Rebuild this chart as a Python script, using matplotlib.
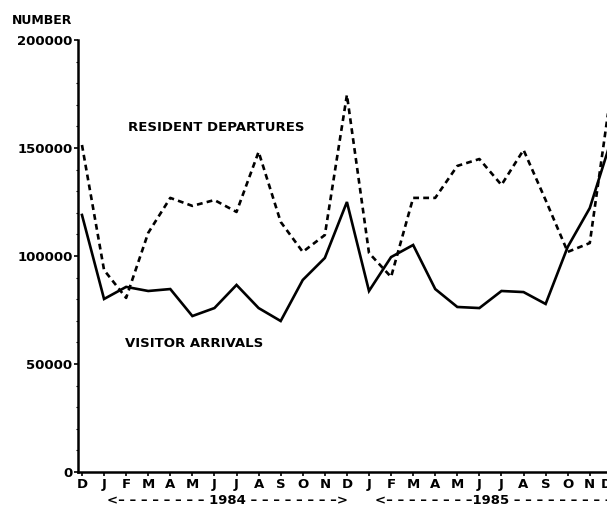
import matplotlib
matplotlib.use("Agg")
import matplotlib.pyplot as plt
from matplotlib.ticker import MultipleLocator

# monthly values, Dec 1983 .. Dec 1985
months = ["D", "J", "F", "M", "A", "M", "J", "J", "A", "S", "O", "N",
          "D", "J", "F", "M", "A", "M", "J", "J", "A", "S", "O", "N", "D"]
visitor_arrivals = [119000, 80100, 85700, 83800, 84700, 72200, 75900, 86600,
                    75900, 69900, 88900, 99100, 125000, 83800, 99500, 105100,
                    84700, 76400, 75900, 83800, 83300, 77800, 104200, 122200,
                    154600]
resident_departures = [151400, 93500, 80600, 110700, 126900, 123200, 125900,
                       120400, 148200, 115800, 101900, 109700, 174600, 101400,
                       90300, 126900, 126900, 141700, 144900, 132900, 149100,
                       125900, 101900, 106000, 178700]
yticks = [0, 50000, 100000, 150000, 200000]

plt.rcParams['font.family'] = ['DejaVu Sans']
plt.rcParams['font.weight'] = 'bold'

fig = plt.figure(figsize=(6.07, 5.15), dpi=100)
ax = fig.add_axes([78 / 607, 1 - 472 / 515, 1 - 78 / 607, (472 - 40) / 515])

x = list(range(len(months)))
ax.plot(x, visitor_arrivals, color='black', lw=1.9, solid_joinstyle='miter')
ax.plot(x, resident_departures, color='black', lw=1.9, dashes=(2.2, 1.6))

ax.set_xlim(-0.18, 23.78)
ax.set_ylim(0, 200000)

for s in ['top', 'right']:
    ax.spines[s].set_visible(False)
for s in ['left', 'bottom']:
    ax.spines[s].set_linewidth(1.8)

ax.set_yticks(yticks)
ax.set_yticklabels([str(v) for v in yticks], fontsize=9.5, fontweight='bold')
ax.yaxis.set_minor_locator(MultipleLocator(10000))
ax.tick_params(axis='y', which='major', length=3, width=1.2, pad=1)
ax.tick_params(axis='y', which='minor', length=1.5, width=0.8)

ax.set_xticks(x[:-1])
ax.set_xticklabels(months[:-1], fontsize=9.5, fontweight='bold')
ax.tick_params(axis='x', length=3, width=1.2, pad=1.5)

# x in data units, y in figure units
ytr = ax.get_xaxis_transform().__class__(ax.transData, fig.transFigure)
ax.text(23.75, 1 - 484 / 515, months[-1], transform=ytr,
        ha='center', va='center', fontsize=9.5, fontweight='bold', clip_on=False)

# year spans under the month letters
d = "\u2013 "
ax.text(6.6, 1 - 500 / 515, "<" + d * 8 + "1984 " + d * 7 + "\u2013>",
        transform=ytr, ha='center', va='center', fontsize=9.5, fontweight='bold')
ax.text(13.25, 1 - 500 / 515, "<" + d * 7 + "\u20131985 " + d * 9,
        transform=ytr, ha='left', va='center', fontsize=9.5, fontweight='bold')

ax.text(2.08, 159300, "RESIDENT DEPARTURES", ha='left', va='center',
        fontsize=9.5, fontweight='bold')
ax.text(1.95, 59700, "VISITOR ARRIVALS", ha='left', va='center',
        fontsize=9.5, fontweight='bold')

fig.text(12 / 607, 1 - 21 / 515, "NUMBER", ha='left', va='center',
         fontsize=9, fontweight='bold')

plt.savefig("out.png", dpi=100)
